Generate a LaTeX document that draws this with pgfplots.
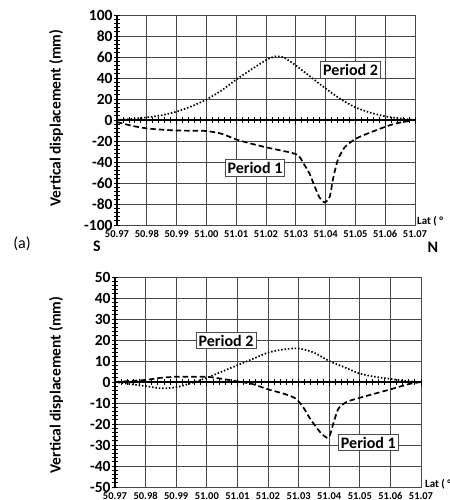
\documentclass[border=0pt]{standalone}
\usepackage{pgfplots}
\pgfplotsset{compat=1.18}
\usepackage{fontspec}
\setmainfont{Carlito}[Numbers={Lining}]

\tikzset{
  lbl/.style={draw=black!70, line width=0.9pt, fill=white, font=\fontsize{16bp}{18bp}\selectfont\bfseries, inner sep=2.5bp},
  p1/.style={black, line width=1.7pt, dash pattern=on 5.5bp off 3bp, smooth, tension=0.4},
  p2/.style={black, line width=1.7pt, dash pattern=on 1.5bp off 1.9bp, line cap=butt, smooth, tension=0.4},
}
\pgfplotsset{
  gridaxis/.style={
    scale only axis, anchor=south west,
    xmin=50.97, xmax=51.07,
    xtick={50.97,50.98,50.99,51.00,51.01,51.02,51.03,51.04,51.05,51.06,51.07},
    xticklabels={50.97,50.98,50.99,51.00,51.01,51.02,51.03,51.04,51.05,51.06,51.07},
    grid=major, major grid style={black!72, line width=0.8pt},
    axis line style={black!72, line width=0.8pt},
    tick style={draw=none},
    xticklabel style={font=\fontsize{10.5bp}{12bp}\selectfont\bfseries, anchor=base, yshift=-12bp},
    yticklabel style={font=\fontsize{15.5bp}{17bp}\selectfont\bfseries, xshift=-1bp},
    /pgf/number format/assume math mode=true,
    clip=false,
  },
  lineaxis/.style={
    scale only axis, anchor=south west,
    xmin=50.97, xmax=51.07,
    axis x line=middle, axis y line=left,
    axis line style={black, line width=1.6pt, -},
    xtick={50.97,50.98,50.99,51.00,51.01,51.02,51.03,51.04,51.05,51.06,51.07},
    minor x tick num=4,
    xticklabels={}, yticklabels={},
    tick align=center,
    major tick length=7bp, minor tick length=6bp,
    major tick style={black, line width=1pt},
    minor tick style={black, line width=0.8pt},
    xlabel={}, ylabel={},
  },
}

\begin{document}
\begin{tikzpicture}
\path[use as bounding box] (0,0) rectangle (450bp,-500bp);

% ---------------- Top chart ----------------
\begin{axis}[gridaxis, at={(117bp,-225bp)}, width=298bp, height=210bp,
  ymin=-100, ymax=100, ytick={-100,-80,...,100}]
\addplot[p2] coordinates {
(50.97,0) (50.975,1) (50.98,2.5) (50.985,4.5) (50.99,8) (50.995,13) (51.00,19.5)
(51.005,28) (51.01,38.5) (51.015,48) (51.02,57) (51.023,60.5) (51.026,59.5)
(51.03,52) (51.035,41) (51.04,30) (51.045,20) (51.05,12) (51.055,7) (51.06,3.5)
(51.065,1.5) (51.07,0)};
\addplot[p1] coordinates {
(50.97,-2) (50.975,-5.5) (50.98,-8) (50.985,-9.2) (50.99,-10) (50.995,-10.2)
(51.00,-10.5) (51.005,-13) (51.01,-18.5) (51.015,-22.5) (51.02,-26) (51.025,-29)
(51.029,-31.5) (51.031,-34) (51.0323,-40) (51.0346,-51) (51.0363,-63) (51.038,-74)
(51.0397,-78.5) (51.0414,-73) (51.0425,-56) (51.0441,-38) (51.0464,-26) (51.05,-18)
(51.054,-13) (51.06,-6.5) (51.064,-3) (51.07,0)};
\node[lbl] at (axis cs:51.0484,47.6) {Period 2};
\node[lbl] at (axis cs:51.0163,-45.7) {Period 1};
\end{axis}
\begin{axis}[lineaxis, at={(117bp,-225bp)}, width=298bp, height=210bp,
  ymin=-100, ymax=100, ytick={-100,-80,...,100}, minor y tick num=4]
\end{axis}

% ---------------- Bottom chart ----------------
\begin{axis}[gridaxis, at={(115bp,-487bp)}, width=306bp, height=210bp,
  ymin=-50, ymax=50, ytick={-50,-40,...,50}]
\addplot[p2] coordinates {
(50.97,0) (50.975,-1) (50.98,-2) (50.985,-3) (50.99,-2.5) (50.995,-0.5) (51.00,2)
(51.005,5) (51.01,8) (51.015,11) (51.02,14) (51.025,15.5) (51.03,16) (51.035,14)
(51.04,10) (51.045,7) (51.05,4) (51.055,2.5) (51.06,1.5) (51.065,0.5) (51.07,0)};
\addplot[p1] coordinates {
(50.97,0) (50.975,0.5) (50.98,1) (50.985,2) (50.99,2.5) (50.995,2.5) (51.00,2.5)
(51.005,1.5) (51.01,0.3) (51.015,-1) (51.02,-3.5) (51.025,-5.5) (51.029,-7.8)
(51.0315,-12) (51.034,-18) (51.0371,-24) (51.0392,-26.5) (51.0402,-25.5)
(51.0413,-20) (51.043,-12.7) (51.0457,-9.5) (51.05,-7.5) (51.055,-5.5) (51.06,-3.5)
(51.066,-1) (51.07,0)};
\node[lbl] at (axis cs:51.0063,19.7) {Period 2};
\node[lbl] at (axis cs:51.0528,-28.9) {Period 1};
\end{axis}
\begin{axis}[lineaxis, at={(115bp,-487bp)}, width=306bp, height=210bp,
  ymin=-50, ymax=50, ytick={-50,-40,...,50}, minor y tick num=4]
\end{axis}

% ---------------- Texts ----------------
\node[rotate=90, font=\fontsize{15.5bp}{17bp}\selectfont\bfseries] at (56bp,-118bp) {Vertical displacement (mm)};
\node[rotate=90, font=\fontsize{15.5bp}{17bp}\selectfont\bfseries] at (56bp,-385bp) {Vertical displacement (mm)};
\node[anchor=west, font=\fontsize{11bp}{12bp}\selectfont\bfseries, inner sep=0pt] at (417bp,-221bp) {Lat ( °};
\node[anchor=west, font=\fontsize{11bp}{12bp}\selectfont\bfseries, inner sep=0pt] at (425bp,-484bp) {Lat ( °};
\node[font=\fontsize{16bp}{18bp}\selectfont] at (22bp,-244bp) {(a)};
\node[font=\fontsize{16bp}{18bp}\selectfont\bfseries] at (97bp,-246bp) {S};
\node[font=\fontsize{16bp}{18bp}\selectfont\bfseries] at (433bp,-247bp) {N};
\end{tikzpicture}
\end{document}
